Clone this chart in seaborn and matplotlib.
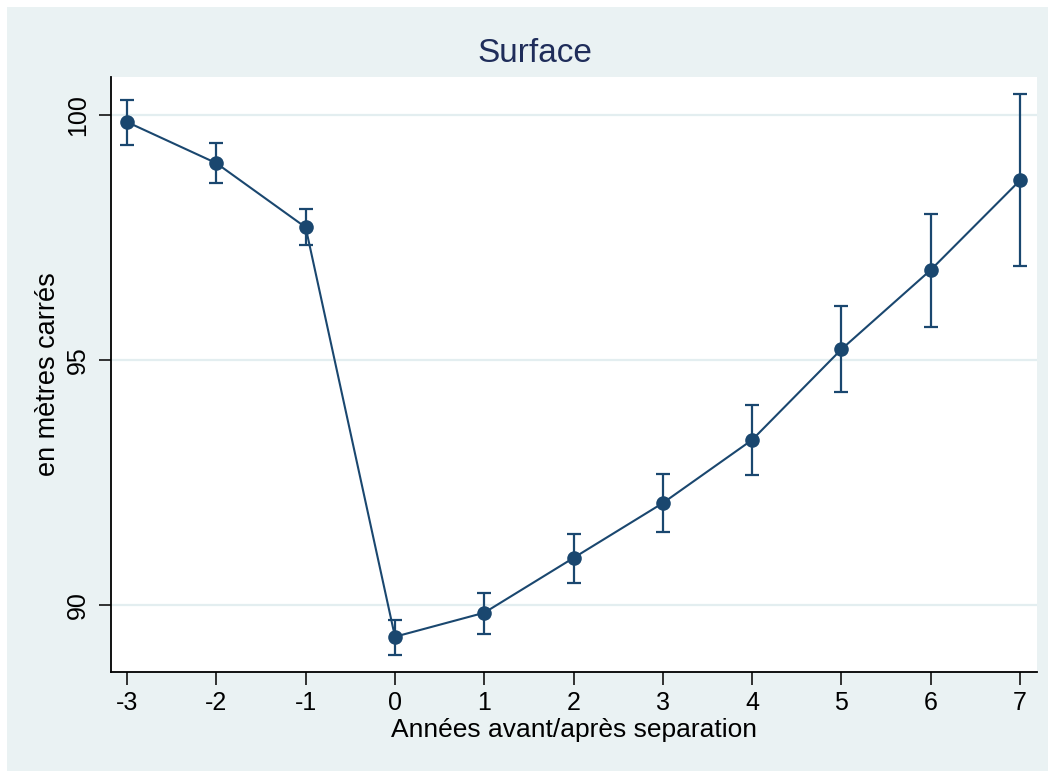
import matplotlib
matplotlib.use("Agg")
import matplotlib.pyplot as plt
from matplotlib.patches import Rectangle
import numpy as np
import pandas as pd
import seaborn as sns

# Years relative to separation, mean dwelling surface and 95% CI bounds
years = [-3, -2, -1, 0, 1, 2, 3, 4, 5, 6, 7]
surface = [99.86, 99.02, 97.71, 89.35, 89.84, 90.96, 92.08, 93.37, 95.22, 96.84, 98.67]
ci_low = [99.39, 98.61, 97.35, 88.98, 89.41, 90.45, 91.49, 92.65, 94.35, 95.67, 96.92]
ci_high = [100.31, 99.43, 98.08, 89.69, 90.24, 91.45, 92.67, 94.08, 96.10, 97.98, 100.43]
yticks = [90, 95, 100]

df = pd.DataFrame({"annee": years, "surface": surface, "lo": ci_low, "hi": ci_high})

sns.set_theme(style="white")
plt.rcParams["font.family"] = ["Liberation Sans", "DejaVu Sans"]

navy = "#1a476f"
panel = "#eaf2f3"

fig = plt.figure(figsize=(10.48, 7.71), dpi=100, facecolor=panel)
# thin white strips along the top and left edges
fig.patches.append(Rectangle((0, 0), 7 / 1048, 1, transform=fig.transFigure,
                             facecolor="white", edgecolor="none", zorder=-10))
fig.patches.append(Rectangle((0, 1 - 7 / 771), 1, 7 / 771, transform=fig.transFigure,
                             facecolor="white", edgecolor="none", zorder=-10))
ax = fig.add_axes([111 / 1048, (771 - 672) / 771, (1037 - 111) / 1048, (672 - 77) / 771])
ax.set_facecolor("white")

for v in yticks:
    ax.axhline(v, color="#e3eef0", lw=1.6, zorder=0)

ax.errorbar(df["annee"], df["surface"],
            yerr=[df["surface"] - df["lo"], df["hi"] - df["surface"]],
            fmt="none", ecolor=navy, elinewidth=1.6, capsize=4.8, capthick=1.6, zorder=2)
sns.lineplot(data=df, x="annee", y="surface", ax=ax, color=navy, lw=1.5,
             marker="o", markersize=10.5, markeredgewidth=0, zorder=3)

ax.set_xlim(-3.18, 7.19)
ax.set_ylim(88.63, 100.78)
ax.set_xticks(years)
ax.set_xticklabels([str(y) for y in years])
ax.set_yticks(yticks)
ax.set_yticklabels([str(v) for v in yticks], rotation=90, va="center")

for side in ["top", "right"]:
    ax.spines[side].set_visible(False)
for side in ["left", "bottom"]:
    ax.spines[side].set_color("black")
    ax.spines[side].set_linewidth(1.3)

ax.tick_params(axis="both", which="major", length=9, width=1.3, color="#222222",
               labelsize=18, labelcolor="black", direction="out", bottom=True, left=True)
ax.tick_params(axis="x", pad=5)
ax.tick_params(axis="y", pad=6)

ax.set_xlabel("Années avant/après separation", fontsize=19, color="black", labelpad=2)
ax.set_ylabel("en mètres carrés", fontsize=19.5, color="black", labelpad=4)
fig.text(535 / 1048, 1 - 54 / 771, "Surface", fontsize=24, color="#1f2d5a",
         ha="center", va="center")

fig.savefig("out.png", dpi=100, facecolor=fig.get_facecolor())
